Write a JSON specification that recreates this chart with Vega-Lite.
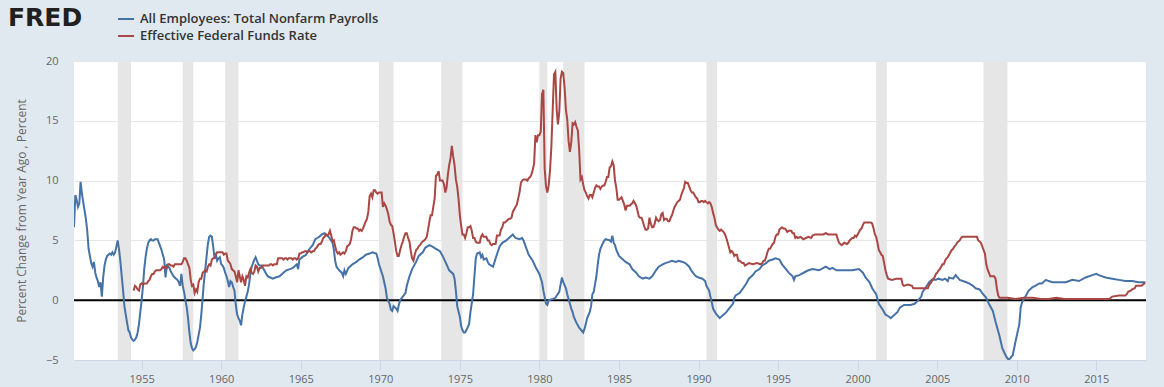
{
"$schema": "https://vega.github.io/schema/vega-lite/v6.json",
"width": 1072, "height": 299,
"autosize": {"type": "none"},
"padding": {"left": 74, "top": 61, "right": 18, "bottom": 27},
"background": "#e1e9f0",
"title": {"text": "FRED", "anchor": "start", "frame": "group", "font": "DejaVu Sans", "fontSize": 25, "fontWeight": "bold", "color": "#231f20", "dx": -66, "offset": 0, "baseline": "alphabetic", "dy": 41},
"config": {
  "view": {"fill": "#ffffff", "stroke": null},
  "font": "Open Sans",
  "axisX": {"title": null, "format": "%Y", "grid": false, "domainColor": "#ccd6eb", "tickColor": "#ccd6eb", "tickSize": 10, "labelFont": "Open Sans", "labelFontSize": 11, "labelColor": "#666666", "labelPadding": 3, "labelFlush": false, "labelOverlap": false},
  "axisY": {"grid": true, "gridColor": "#e6e6e6", "domain": false, "ticks": false, "labelFont": "Open Sans", "labelFontSize": 11, "labelColor": "#666666", "labelPadding": 16, "titleFont": "Open Sans", "titleFontSize": 12, "titleFontWeight": "normal", "titleColor": "#666666", "titleX": -53, "titleY": 149.5, "titleAngle": -90, "titleAlign": "center", "titleBaseline": "middle"},
  "legend": {"orient": "none", "legendX": 43, "legendY": -51, "direction": "vertical", "title": null, "symbolType": "stroke", "symbolSize": 256, "symbolStrokeWidth": 2, "labelFont": "Open Sans", "labelFontSize": 13, "labelFontWeight": 600, "labelColor": "#333333", "labelOffset": 5, "rowPadding": 1, "padding": 0, "labelLimit": 500}
},
"datasets": {
"recessions": [
{"start":"1953-07","end":"1954-05"},{"start":"1957-08","end":"1958-04"},{"start":"1960-04","end":"1961-02"},{"start":"1969-12","end":"1970-11"},{"start":"1973-11","end":"1975-03"},{"start":"1980-01","end":"1980-07"},{"start":"1981-07","end":"1982-11"},{"start":"1990-07","end":"1991-03"},{"start":"2001-03","end":"2001-11"},{"start":"2007-12","end":"2009-06"}
],
"payrolls": [
{"date":"1950-10","value":6.1},{"date":"1950-11","value":8.8},{"date":"1950-12","value":8.4},{"date":"1951-01","value":7.8},{"date":"1951-02","value":8.1},{"date":"1951-03","value":9.9},{"date":"1951-04","value":8.9},{"date":"1951-05","value":8.2},{"date":"1951-06","value":7.5},{"date":"1951-07","value":6.8},{"date":"1951-08","value":5.8},{"date":"1951-09","value":4.3},{"date":"1951-10","value":3.7},{"date":"1951-11","value":3.1},{"date":"1951-12","value":2.8},
{"date":"1952-01","value":3.2},{"date":"1952-02","value":2.3},{"date":"1952-03","value":1.9},{"date":"1952-04","value":1.6},{"date":"1952-05","value":1.1},{"date":"1952-06","value":1.5},{"date":"1952-07","value":0.3},{"date":"1952-08","value":1.9},{"date":"1952-09","value":2.9},{"date":"1952-10","value":3.4},{"date":"1952-11","value":3.7},{"date":"1952-12","value":3.8},
{"date":"1953-01","value":3.9},{"date":"1953-02","value":3.8},{"date":"1953-03","value":4.0},{"date":"1953-04","value":3.8},{"date":"1953-05","value":4.0},{"date":"1953-06","value":4.5},{"date":"1953-07","value":5.0},{"date":"1953-08","value":4.2},{"date":"1953-09","value":3.2},{"date":"1953-10","value":2.0},{"date":"1953-11","value":0.8},{"date":"1953-12","value":-0.5},
{"date":"1954-01","value":-1.2},{"date":"1954-02","value":-1.9},{"date":"1954-03","value":-2.5},{"date":"1954-04","value":-2.7},{"date":"1954-05","value":-3.1},{"date":"1954-06","value":-3.3},{"date":"1954-07","value":-3.4},{"date":"1954-08","value":-3.3},{"date":"1954-09","value":-3.1},{"date":"1954-10","value":-2.7},{"date":"1954-11","value":-2.0},{"date":"1954-12","value":-1.0},
{"date":"1955-01","value":0.0},{"date":"1955-02","value":1.2},{"date":"1955-03","value":2.6},{"date":"1955-04","value":3.6},{"date":"1955-05","value":4.3},{"date":"1955-06","value":4.8},{"date":"1955-07","value":5.0},{"date":"1955-08","value":5.1},{"date":"1955-09","value":5.0},{"date":"1955-10","value":5.0},{"date":"1955-11","value":5.1},{"date":"1955-12","value":5.1},
{"date":"1956-01","value":5.1},{"date":"1956-02","value":4.8},{"date":"1956-03","value":4.5},{"date":"1956-04","value":4.2},{"date":"1956-05","value":3.8},{"date":"1956-06","value":3.4},{"date":"1956-07","value":1.9},{"date":"1956-08","value":2.9},{"date":"1956-09","value":2.8},{"date":"1956-10","value":2.7},{"date":"1956-11","value":2.4},{"date":"1956-12","value":2.2},
{"date":"1957-01","value":2.0},{"date":"1957-02","value":1.9},{"date":"1957-03","value":1.8},{"date":"1957-04","value":1.7},{"date":"1957-05","value":1.5},{"date":"1957-06","value":1.2},{"date":"1957-07","value":2.2},{"date":"1957-08","value":1.2},{"date":"1957-09","value":0.7},{"date":"1957-10","value":0.0},{"date":"1957-11","value":-0.6},{"date":"1957-12","value":-1.5},
{"date":"1958-01","value":-2.7},{"date":"1958-02","value":-3.6},{"date":"1958-03","value":-4.0},{"date":"1958-04","value":-4.2},{"date":"1958-05","value":-4.1},{"date":"1958-06","value":-3.9},{"date":"1958-07","value":-3.5},{"date":"1958-08","value":-2.9},{"date":"1958-09","value":-2.3},{"date":"1958-10","value":-1.2},{"date":"1958-11","value":0.2},{"date":"1958-12","value":1.5},
{"date":"1959-01","value":2.6},{"date":"1959-02","value":3.7},{"date":"1959-03","value":4.7},{"date":"1959-04","value":5.3},{"date":"1959-05","value":5.4},{"date":"1959-06","value":5.3},{"date":"1959-07","value":4.5},{"date":"1959-08","value":3.5},{"date":"1959-09","value":3.8},{"date":"1959-10","value":3.3},{"date":"1959-11","value":3.5},{"date":"1959-12","value":3.6},
{"date":"1960-01","value":3.0},{"date":"1960-02","value":2.9},{"date":"1960-03","value":2.7},{"date":"1960-04","value":2.3},{"date":"1960-05","value":2.0},{"date":"1960-06","value":1.6},{"date":"1960-07","value":1.1},{"date":"1960-08","value":1.6},{"date":"1960-09","value":1.5},{"date":"1960-10","value":1.1},{"date":"1960-11","value":0.8},{"date":"1960-12","value":-0.4},
{"date":"1961-01","value":-1.2},{"date":"1961-02","value":-1.5},{"date":"1961-03","value":-1.7},{"date":"1961-04","value":-2.1},{"date":"1961-05","value":-1.2},{"date":"1961-06","value":-0.6},{"date":"1961-07","value":-0.1},{"date":"1961-08","value":0.3},{"date":"1961-09","value":0.7},{"date":"1961-10","value":1.3},{"date":"1961-11","value":2.2},{"date":"1961-12","value":2.8},
{"date":"1962-01","value":3.1},{"date":"1962-02","value":3.4},{"date":"1962-03","value":3.6},{"date":"1962-04","value":3.3},{"date":"1962-05","value":3.0},{"date":"1962-06","value":2.9},{"date":"1962-07","value":2.9},{"date":"1962-08","value":2.8},{"date":"1962-09","value":2.6},{"date":"1962-10","value":2.4},{"date":"1962-11","value":2.2},{"date":"1962-12","value":2.0},
{"date":"1963-02","value":1.9},{"date":"1963-04","value":1.8},{"date":"1963-06","value":1.9},{"date":"1963-09","value":2.0},{"date":"1963-12","value":2.3},{"date":"1964-02","value":2.5},{"date":"1964-05","value":2.6},{"date":"1964-07","value":2.7},{"date":"1964-09","value":2.9},{"date":"1964-10","value":3.0},{"date":"1964-11","value":2.6},{"date":"1964-12","value":3.4},
{"date":"1965-02","value":3.6},{"date":"1965-05","value":3.8},{"date":"1965-07","value":4.2},{"date":"1965-10","value":4.6},{"date":"1965-12","value":5.1},{"date":"1966-03","value":5.3},{"date":"1966-05","value":5.5},{"date":"1966-07","value":5.6},{"date":"1966-08","value":5.5},{"date":"1966-10","value":5.3},
{"date":"1967-01","value":4.8},{"date":"1967-02","value":4.2},{"date":"1967-03","value":3.3},{"date":"1967-04","value":2.8},{"date":"1967-06","value":2.5},{"date":"1967-08","value":2.3},{"date":"1967-09","value":2.0},{"date":"1967-10","value":2.5},{"date":"1967-11","value":2.2},
{"date":"1968-01","value":2.7},{"date":"1968-04","value":3.0},{"date":"1968-07","value":3.2},{"date":"1968-09","value":3.4},{"date":"1968-12","value":3.6},{"date":"1969-02","value":3.8},{"date":"1969-05","value":3.9},{"date":"1969-07","value":4.0},{"date":"1969-10","value":3.9},{"date":"1969-11","value":3.5},{"date":"1969-12","value":3.0},
{"date":"1970-03","value":2.0},{"date":"1970-05","value":1.0},{"date":"1970-06","value":0.2},{"date":"1970-08","value":-0.3},{"date":"1970-09","value":-0.8},{"date":"1970-10","value":-0.9},{"date":"1970-11","value":-0.5},{"date":"1971-01","value":-0.7},{"date":"1971-02","value":-0.9},{"date":"1971-03","value":-0.4},{"date":"1971-04","value":0.0},{"date":"1971-06","value":0.3},{"date":"1971-08","value":0.6},{"date":"1971-09","value":1.2},{"date":"1971-11","value":2.0},
{"date":"1972-01","value":2.6},{"date":"1972-04","value":3.2},{"date":"1972-06","value":3.7},{"date":"1972-09","value":4.0},{"date":"1972-11","value":4.4},{"date":"1973-02","value":4.6},{"date":"1973-04","value":4.5},{"date":"1973-07","value":4.3},{"date":"1973-10","value":4.1},{"date":"1973-12","value":3.7},
{"date":"1974-03","value":3.0},{"date":"1974-05","value":2.5},{"date":"1974-08","value":2.2},{"date":"1974-09","value":1.8},{"date":"1974-10","value":0.8},{"date":"1974-11","value":-0.5},{"date":"1975-01","value":-1.4},{"date":"1975-02","value":-2.2},{"date":"1975-03","value":-2.5},{"date":"1975-04","value":-2.7},{"date":"1975-05","value":-2.7},{"date":"1975-06","value":-2.5},{"date":"1975-08","value":-2.0},{"date":"1975-09","value":-1.0},{"date":"1975-11","value":0.5},{"date":"1975-12","value":2.0},
{"date":"1976-01","value":3.5},{"date":"1976-02","value":3.9},{"date":"1976-04","value":4.0},{"date":"1976-05","value":3.6},{"date":"1976-06","value":3.8},{"date":"1976-07","value":3.4},{"date":"1976-09","value":3.5},{"date":"1976-10","value":3.2},{"date":"1976-11","value":3.0},{"date":"1977-02","value":2.8},{"date":"1977-04","value":3.5},{"date":"1977-07","value":4.5},{"date":"1977-09","value":4.8},{"date":"1977-12","value":5.0},
{"date":"1978-02","value":5.2},{"date":"1978-05","value":5.5},{"date":"1978-07","value":5.2},{"date":"1978-10","value":5.1},{"date":"1978-12","value":5.2},{"date":"1979-01","value":5.0},{"date":"1979-03","value":4.4},{"date":"1979-05","value":3.8},{"date":"1979-08","value":3.3},{"date":"1979-10","value":2.8},
{"date":"1980-01","value":2.2},{"date":"1980-03","value":1.5},{"date":"1980-04","value":0.8},{"date":"1980-06","value":-0.3},{"date":"1980-07","value":-0.4},{"date":"1980-08","value":0.0},{"date":"1980-11","value":0.1},{"date":"1981-01","value":0.2},{"date":"1981-04","value":0.7},{"date":"1981-05","value":1.3},{"date":"1981-06","value":1.9},{"date":"1981-07","value":1.5},{"date":"1981-09","value":1.0},{"date":"1981-10","value":0.5},{"date":"1981-12","value":-0.3},
{"date":"1982-01","value":-0.7},{"date":"1982-02","value":-1.0},{"date":"1982-03","value":-1.4},{"date":"1982-05","value":-1.9},{"date":"1982-06","value":-2.1},{"date":"1982-07","value":-2.3},{"date":"1982-10","value":-2.7},{"date":"1982-11","value":-2.4},{"date":"1982-12","value":-2.0},
{"date":"1983-01","value":-1.5},{"date":"1983-03","value":-1.0},{"date":"1983-04","value":-0.5},{"date":"1983-05","value":0.5},{"date":"1983-06","value":0.7},{"date":"1983-08","value":2.0},{"date":"1983-09","value":3.0},{"date":"1983-10","value":3.8},{"date":"1983-11","value":4.3},
{"date":"1984-01","value":4.8},{"date":"1984-02","value":5.0},{"date":"1984-03","value":5.1},{"date":"1984-06","value":5.0},{"date":"1984-07","value":4.9},{"date":"1984-08","value":5.4},{"date":"1984-09","value":4.8},{"date":"1984-10","value":4.6},{"date":"1984-11","value":4.2},
{"date":"1985-01","value":3.7},{"date":"1985-04","value":3.4},{"date":"1985-06","value":3.2},{"date":"1985-09","value":3.0},{"date":"1985-11","value":2.6},{"date":"1986-02","value":2.3},{"date":"1986-04","value":2.0},{"date":"1986-07","value":1.8},{"date":"1986-09","value":1.9},{"date":"1986-12","value":1.8},
{"date":"1987-02","value":2.0},{"date":"1987-05","value":2.5},{"date":"1987-07","value":2.8},{"date":"1987-10","value":3.0},{"date":"1987-12","value":3.1},{"date":"1988-03","value":3.2},{"date":"1988-05","value":3.3},{"date":"1988-08","value":3.2},{"date":"1988-10","value":3.3},
{"date":"1989-01","value":3.2},{"date":"1989-03","value":3.1},{"date":"1989-06","value":2.8},{"date":"1989-08","value":2.4},{"date":"1989-11","value":2.0},{"date":"1990-01","value":1.9},{"date":"1990-04","value":1.8},{"date":"1990-06","value":1.6},{"date":"1990-07","value":1.2},{"date":"1990-09","value":0.8},{"date":"1990-10","value":0.3},{"date":"1990-11","value":-0.2},{"date":"1990-12","value":-0.7},
{"date":"1991-02","value":-1.1},{"date":"1991-05","value":-1.5},{"date":"1991-07","value":-1.3},{"date":"1991-10","value":-1.0},{"date":"1991-12","value":-0.7},{"date":"1992-03","value":-0.3},{"date":"1992-04","value":0.2},{"date":"1992-05","value":0.4},{"date":"1992-08","value":0.6},{"date":"1992-10","value":0.9},
{"date":"1993-01","value":1.4},{"date":"1993-03","value":1.8},{"date":"1993-06","value":2.1},{"date":"1993-08","value":2.4},{"date":"1993-11","value":2.6},{"date":"1994-01","value":2.9},{"date":"1994-04","value":3.1},{"date":"1994-06","value":3.3},{"date":"1994-09","value":3.4},{"date":"1994-11","value":3.5},
{"date":"1995-02","value":3.4},{"date":"1995-04","value":3.0},{"date":"1995-07","value":2.6},{"date":"1995-09","value":2.3},{"date":"1995-12","value":2.0},{"date":"1996-01","value":1.7},{"date":"1996-02","value":2.0},{"date":"1996-05","value":2.1},{"date":"1996-10","value":2.4},{"date":"1996-12","value":2.5},
{"date":"1997-03","value":2.6},{"date":"1997-08","value":2.5},{"date":"1998-01","value":2.8},{"date":"1998-04","value":2.6},{"date":"1998-06","value":2.7},{"date":"1998-09","value":2.5},{"date":"1998-11","value":2.5},{"date":"1999-04","value":2.5},{"date":"1999-09","value":2.5},
{"date":"2000-02","value":2.6},{"date":"2000-05","value":2.3},{"date":"2000-07","value":1.9},{"date":"2000-10","value":1.5},{"date":"2000-12","value":1.0},{"date":"2001-03","value":0.5},{"date":"2001-05","value":-0.3},{"date":"2001-08","value":-0.8},{"date":"2001-10","value":-1.2},
{"date":"2002-01","value":-1.4},{"date":"2002-02","value":-1.5},{"date":"2002-04","value":-1.3},{"date":"2002-07","value":-1.0},{"date":"2002-09","value":-0.6},{"date":"2002-12","value":-0.4},{"date":"2003-03","value":-0.4},{"date":"2003-05","value":-0.4},{"date":"2003-08","value":-0.3},{"date":"2003-10","value":-0.1},
{"date":"2004-01","value":0.3},{"date":"2004-02","value":0.7},{"date":"2004-04","value":1.0},{"date":"2004-07","value":1.5},{"date":"2004-09","value":1.7},{"date":"2004-12","value":1.7},{"date":"2005-02","value":1.8},{"date":"2005-05","value":1.7},{"date":"2005-07","value":1.8},{"date":"2005-09","value":1.6},{"date":"2005-10","value":1.9},
{"date":"2006-01","value":1.8},{"date":"2006-03","value":2.1},{"date":"2006-06","value":1.7},{"date":"2006-11","value":1.5},{"date":"2007-01","value":1.4},{"date":"2007-04","value":1.2},{"date":"2007-06","value":1.0},{"date":"2007-09","value":0.9},{"date":"2007-11","value":0.6},
{"date":"2008-02","value":0.2},{"date":"2008-04","value":-0.3},{"date":"2008-07","value":-0.9},{"date":"2008-09","value":-1.8},{"date":"2008-12","value":-3.0},{"date":"2009-02","value":-4.0},{"date":"2009-05","value":-4.7},{"date":"2009-07","value":-5.0},{"date":"2009-10","value":-4.6},{"date":"2009-12","value":-3.5},
{"date":"2010-03","value":-2.0},{"date":"2010-04","value":-0.6},{"date":"2010-05","value":-0.2},{"date":"2010-08","value":0.4},{"date":"2010-10","value":0.8},{"date":"2011-01","value":1.1},{"date":"2011-03","value":1.2},{"date":"2011-06","value":1.4},{"date":"2011-08","value":1.4},{"date":"2011-11","value":1.7},
{"date":"2012-01","value":1.6},{"date":"2012-04","value":1.5},{"date":"2012-09","value":1.5},{"date":"2013-02","value":1.5},{"date":"2013-07","value":1.7},{"date":"2013-12","value":1.6},{"date":"2014-05","value":1.9},{"date":"2014-10","value":2.1},{"date":"2015-01","value":2.2},{"date":"2015-03","value":2.1},{"date":"2015-08","value":1.9},
{"date":"2016-01","value":1.8},{"date":"2016-06","value":1.7},{"date":"2016-11","value":1.6},{"date":"2017-04","value":1.6},{"date":"2017-09","value":1.5},{"date":"2018-02","value":1.5}
],
"fedfunds": [
{"date":"1954-07","value":0.8},{"date":"1954-08","value":1.2},{"date":"1954-09","value":1.1},{"date":"1954-10","value":0.9},{"date":"1954-11","value":0.8},{"date":"1954-12","value":1.3},
{"date":"1955-01","value":1.4},{"date":"1955-02","value":1.3},{"date":"1955-03","value":1.4},{"date":"1955-04","value":1.4},{"date":"1955-05","value":1.4},{"date":"1955-06","value":1.6},{"date":"1955-07","value":1.7},{"date":"1955-08","value":2.0},{"date":"1955-09","value":2.2},{"date":"1955-10","value":2.2},{"date":"1955-11","value":2.4},{"date":"1955-12","value":2.5},
{"date":"1956-01","value":2.5},{"date":"1956-02","value":2.5},{"date":"1956-03","value":2.5},{"date":"1956-04","value":2.6},{"date":"1956-05","value":2.8},{"date":"1956-06","value":2.7},{"date":"1956-07","value":2.8},{"date":"1956-08","value":2.7},{"date":"1956-09","value":3.0},{"date":"1956-10","value":3.0},{"date":"1956-11","value":2.9},{"date":"1956-12","value":2.9},
{"date":"1957-01","value":2.8},{"date":"1957-02","value":3.0},{"date":"1957-03","value":3.0},{"date":"1957-04","value":3.0},{"date":"1957-05","value":3.0},{"date":"1957-06","value":3.0},{"date":"1957-07","value":3.0},{"date":"1957-08","value":3.2},{"date":"1957-09","value":3.5},{"date":"1957-10","value":3.5},{"date":"1957-11","value":3.3},{"date":"1957-12","value":3.0},
{"date":"1958-01","value":2.7},{"date":"1958-02","value":1.7},{"date":"1958-03","value":1.2},{"date":"1958-04","value":1.3},{"date":"1958-05","value":0.6},{"date":"1958-06","value":0.9},{"date":"1958-07","value":0.7},{"date":"1958-08","value":1.5},{"date":"1958-09","value":1.8},{"date":"1958-10","value":1.8},{"date":"1958-11","value":2.3},{"date":"1958-12","value":2.4},
{"date":"1959-01","value":2.5},{"date":"1959-02","value":2.4},{"date":"1959-03","value":2.8},{"date":"1959-04","value":3.0},{"date":"1959-05","value":2.9},{"date":"1959-06","value":3.4},{"date":"1959-07","value":3.5},{"date":"1959-08","value":3.5},{"date":"1959-09","value":3.8},{"date":"1959-10","value":4.0},{"date":"1959-11","value":4.0},{"date":"1959-12","value":4.0},
{"date":"1960-01","value":4.0},{"date":"1960-02","value":4.0},{"date":"1960-03","value":3.8},{"date":"1960-04","value":3.9},{"date":"1960-05","value":3.9},{"date":"1960-06","value":3.3},{"date":"1960-07","value":3.2},{"date":"1960-08","value":3.0},{"date":"1960-09","value":2.6},{"date":"1960-10","value":2.5},{"date":"1960-11","value":2.4},{"date":"1960-12","value":2.0},
{"date":"1961-01","value":1.5},{"date":"1961-02","value":2.5},{"date":"1961-03","value":2.0},{"date":"1961-04","value":1.5},{"date":"1961-05","value":2.0},{"date":"1961-06","value":1.7},{"date":"1961-07","value":1.2},{"date":"1961-08","value":2.0},{"date":"1961-09","value":1.9},{"date":"1961-10","value":2.3},{"date":"1961-11","value":2.6},{"date":"1961-12","value":2.3},
{"date":"1962-01","value":2.2},{"date":"1962-02","value":2.4},{"date":"1962-03","value":2.9},{"date":"1962-04","value":2.8},{"date":"1962-05","value":2.4},{"date":"1962-06","value":2.7},{"date":"1962-07","value":2.7},{"date":"1962-08","value":2.9},{"date":"1962-09","value":2.9},{"date":"1962-10","value":2.9},{"date":"1962-11","value":2.9},{"date":"1962-12","value":2.9},
{"date":"1963-01","value":2.9},{"date":"1963-02","value":3.0},{"date":"1963-03","value":3.0},{"date":"1963-04","value":2.9},{"date":"1963-05","value":3.0},{"date":"1963-06","value":3.0},{"date":"1963-07","value":3.0},{"date":"1963-08","value":3.5},{"date":"1963-09","value":3.5},{"date":"1963-10","value":3.5},{"date":"1963-11","value":3.5},{"date":"1963-12","value":3.4},
{"date":"1964-01","value":3.5},{"date":"1964-02","value":3.5},{"date":"1964-03","value":3.4},{"date":"1964-04","value":3.5},{"date":"1964-05","value":3.5},{"date":"1964-06","value":3.5},{"date":"1964-07","value":3.4},{"date":"1964-08","value":3.5},{"date":"1964-09","value":3.5},{"date":"1964-10","value":3.4},{"date":"1964-11","value":3.5},{"date":"1964-12","value":3.9},
{"date":"1965-01","value":3.9},{"date":"1965-02","value":4.0},{"date":"1965-03","value":4.0},{"date":"1965-04","value":4.1},{"date":"1965-05","value":4.1},{"date":"1965-06","value":4.0},{"date":"1965-07","value":4.1},{"date":"1965-08","value":4.1},{"date":"1965-09","value":4.0},{"date":"1965-10","value":4.1},{"date":"1965-11","value":4.1},{"date":"1965-12","value":4.3},
{"date":"1966-01","value":4.4},{"date":"1966-02","value":4.6},{"date":"1966-03","value":4.7},{"date":"1966-04","value":4.7},{"date":"1966-05","value":4.9},{"date":"1966-06","value":5.2},{"date":"1966-07","value":5.3},{"date":"1966-08","value":5.5},{"date":"1966-09","value":5.4},{"date":"1966-10","value":5.5},{"date":"1966-11","value":5.8},{"date":"1966-12","value":5.4},
{"date":"1967-01","value":4.9},{"date":"1967-02","value":5.0},{"date":"1967-03","value":4.5},{"date":"1967-04","value":4.1},{"date":"1967-05","value":3.9},{"date":"1967-06","value":4.0},{"date":"1967-07","value":3.8},{"date":"1967-08","value":3.9},{"date":"1967-09","value":4.0},{"date":"1967-10","value":3.9},{"date":"1967-11","value":4.1},{"date":"1967-12","value":4.5},
{"date":"1968-01","value":4.6},{"date":"1968-02","value":4.7},{"date":"1968-03","value":5.1},{"date":"1968-04","value":5.8},{"date":"1968-05","value":6.1},{"date":"1968-06","value":6.1},{"date":"1968-07","value":6.0},{"date":"1968-08","value":6.0},{"date":"1968-09","value":5.8},{"date":"1968-10","value":5.9},{"date":"1968-11","value":5.8},{"date":"1968-12","value":6.0},
{"date":"1969-01","value":6.3},{"date":"1969-02","value":6.6},{"date":"1969-03","value":6.8},{"date":"1969-04","value":7.4},{"date":"1969-05","value":8.7},{"date":"1969-06","value":8.9},{"date":"1969-07","value":8.6},{"date":"1969-08","value":9.2},{"date":"1969-09","value":9.2},{"date":"1969-10","value":9.0},{"date":"1969-11","value":8.9},{"date":"1969-12","value":9.0},
{"date":"1970-01","value":9.0},{"date":"1970-02","value":9.0},{"date":"1970-03","value":7.8},{"date":"1970-04","value":8.1},{"date":"1970-05","value":7.9},{"date":"1970-06","value":7.6},{"date":"1970-07","value":7.2},{"date":"1970-08","value":6.6},{"date":"1970-09","value":6.3},{"date":"1970-10","value":6.2},{"date":"1970-11","value":5.6},{"date":"1970-12","value":4.9},
{"date":"1971-01","value":4.1},{"date":"1971-02","value":3.7},{"date":"1971-03","value":3.7},{"date":"1971-04","value":4.2},{"date":"1971-05","value":4.6},{"date":"1971-06","value":4.9},{"date":"1971-07","value":5.3},{"date":"1971-08","value":5.6},{"date":"1971-09","value":5.6},{"date":"1971-10","value":5.2},{"date":"1971-11","value":4.9},{"date":"1971-12","value":4.1},
{"date":"1972-01","value":3.5},{"date":"1972-02","value":3.3},{"date":"1972-03","value":3.8},{"date":"1972-04","value":4.2},{"date":"1972-05","value":4.3},{"date":"1972-06","value":4.5},{"date":"1972-07","value":4.6},{"date":"1972-08","value":4.8},{"date":"1972-09","value":4.9},{"date":"1972-10","value":5.0},{"date":"1972-11","value":5.1},{"date":"1972-12","value":5.3},
{"date":"1973-01","value":5.9},{"date":"1973-02","value":6.6},{"date":"1973-03","value":7.1},{"date":"1973-04","value":7.1},{"date":"1973-05","value":7.8},{"date":"1973-06","value":8.5},{"date":"1973-07","value":10.4},{"date":"1973-08","value":10.5},{"date":"1973-09","value":10.8},{"date":"1973-10","value":10.0},{"date":"1973-11","value":10.0},{"date":"1973-12","value":10.0},
{"date":"1974-01","value":9.7},{"date":"1974-02","value":9.0},{"date":"1974-03","value":9.4},{"date":"1974-04","value":10.5},{"date":"1974-05","value":11.3},{"date":"1974-06","value":11.9},{"date":"1974-07","value":12.9},{"date":"1974-08","value":12.0},{"date":"1974-09","value":11.3},{"date":"1974-10","value":10.1},{"date":"1974-11","value":9.5},{"date":"1974-12","value":8.5},
{"date":"1975-01","value":7.1},{"date":"1975-02","value":6.2},{"date":"1975-03","value":5.5},{"date":"1975-04","value":5.5},{"date":"1975-05","value":5.2},{"date":"1975-06","value":5.6},{"date":"1975-07","value":6.1},{"date":"1975-08","value":6.1},{"date":"1975-09","value":6.2},{"date":"1975-10","value":5.8},{"date":"1975-11","value":5.2},{"date":"1975-12","value":5.2},
{"date":"1976-01","value":4.9},{"date":"1976-02","value":4.8},{"date":"1976-03","value":4.8},{"date":"1976-04","value":4.8},{"date":"1976-05","value":5.3},{"date":"1976-06","value":5.5},{"date":"1976-07","value":5.3},{"date":"1976-08","value":5.3},{"date":"1976-09","value":5.3},{"date":"1976-10","value":5.0},{"date":"1976-11","value":5.0},{"date":"1976-12","value":4.7},
{"date":"1977-01","value":4.6},{"date":"1977-02","value":4.7},{"date":"1977-03","value":4.7},{"date":"1977-04","value":4.7},{"date":"1977-05","value":5.4},{"date":"1977-06","value":5.4},{"date":"1977-07","value":5.4},{"date":"1977-08","value":5.9},{"date":"1977-09","value":6.1},{"date":"1977-10","value":6.5},{"date":"1977-11","value":6.5},{"date":"1977-12","value":6.6},
{"date":"1978-01","value":6.7},{"date":"1978-02","value":6.8},{"date":"1978-03","value":6.8},{"date":"1978-04","value":6.9},{"date":"1978-05","value":7.4},{"date":"1978-06","value":7.6},{"date":"1978-07","value":7.8},{"date":"1978-08","value":8.0},{"date":"1978-09","value":8.5},{"date":"1978-10","value":9.0},{"date":"1978-11","value":9.8},{"date":"1978-12","value":10.0},
{"date":"1979-01","value":10.1},{"date":"1979-02","value":10.1},{"date":"1979-03","value":10.1},{"date":"1979-04","value":10.0},{"date":"1979-05","value":10.2},{"date":"1979-06","value":10.3},{"date":"1979-07","value":10.5},{"date":"1979-08","value":10.9},{"date":"1979-09","value":11.4},{"date":"1979-10","value":13.8},{"date":"1979-11","value":13.2},{"date":"1979-12","value":13.8},
{"date":"1980-01","value":13.8},{"date":"1980-02","value":14.1},{"date":"1980-03","value":17.2},{"date":"1980-04","value":17.6},{"date":"1980-05","value":11.0},{"date":"1980-06","value":9.5},{"date":"1980-07","value":9.0},{"date":"1980-08","value":9.6},{"date":"1980-09","value":10.9},{"date":"1980-10","value":12.8},{"date":"1980-11","value":15.9},{"date":"1980-12","value":18.9},
{"date":"1981-01","value":19.1},{"date":"1981-02","value":15.9},{"date":"1981-03","value":14.7},{"date":"1981-04","value":15.7},{"date":"1981-05","value":18.5},{"date":"1981-06","value":19.1},{"date":"1981-07","value":19.0},{"date":"1981-08","value":17.8},{"date":"1981-09","value":15.9},{"date":"1981-10","value":15.1},{"date":"1981-11","value":13.3},{"date":"1981-12","value":12.4},
{"date":"1982-01","value":13.2},{"date":"1982-02","value":14.8},{"date":"1982-03","value":14.7},{"date":"1982-04","value":14.9},{"date":"1982-05","value":14.5},{"date":"1982-06","value":14.2},{"date":"1982-07","value":12.6},{"date":"1982-08","value":10.1},{"date":"1982-09","value":10.3},{"date":"1982-10","value":9.7},{"date":"1982-11","value":9.2},{"date":"1982-12","value":9.0},
{"date":"1983-01","value":8.7},{"date":"1983-02","value":8.5},{"date":"1983-03","value":8.8},{"date":"1983-04","value":8.8},{"date":"1983-05","value":8.6},{"date":"1983-06","value":9.0},{"date":"1983-07","value":9.4},{"date":"1983-08","value":9.6},{"date":"1983-09","value":9.5},{"date":"1983-10","value":9.5},{"date":"1983-11","value":9.3},{"date":"1983-12","value":9.5},
{"date":"1984-01","value":9.6},{"date":"1984-02","value":9.6},{"date":"1984-03","value":9.9},{"date":"1984-04","value":10.3},{"date":"1984-05","value":10.3},{"date":"1984-06","value":11.1},{"date":"1984-07","value":11.2},{"date":"1984-08","value":11.6},{"date":"1984-09","value":11.3},{"date":"1984-10","value":10.0},{"date":"1984-11","value":9.4},{"date":"1984-12","value":8.4},
{"date":"1985-01","value":8.4},{"date":"1985-02","value":8.5},{"date":"1985-03","value":8.6},{"date":"1985-04","value":8.3},{"date":"1985-05","value":8.0},{"date":"1985-06","value":7.5},{"date":"1985-07","value":7.9},{"date":"1985-08","value":7.9},{"date":"1985-09","value":7.9},{"date":"1985-10","value":8.0},{"date":"1985-11","value":8.1},{"date":"1985-12","value":8.3},
{"date":"1986-01","value":8.1},{"date":"1986-02","value":7.9},{"date":"1986-03","value":7.5},{"date":"1986-04","value":7.0},{"date":"1986-05","value":6.9},{"date":"1986-06","value":6.9},{"date":"1986-07","value":6.6},{"date":"1986-08","value":6.2},{"date":"1986-09","value":5.9},{"date":"1986-10","value":5.9},{"date":"1986-11","value":6.0},{"date":"1986-12","value":6.9},
{"date":"1987-01","value":6.4},{"date":"1987-02","value":6.1},{"date":"1987-03","value":6.1},{"date":"1987-04","value":6.4},{"date":"1987-05","value":6.9},{"date":"1987-06","value":6.7},{"date":"1987-07","value":6.6},{"date":"1987-08","value":6.7},{"date":"1987-09","value":7.2},{"date":"1987-10","value":7.3},{"date":"1987-11","value":6.7},{"date":"1987-12","value":6.8},
{"date":"1988-01","value":6.8},{"date":"1988-02","value":6.6},{"date":"1988-03","value":6.6},{"date":"1988-04","value":6.9},{"date":"1988-05","value":7.1},{"date":"1988-06","value":7.5},{"date":"1988-07","value":7.8},{"date":"1988-08","value":8.0},{"date":"1988-09","value":8.2},{"date":"1988-10","value":8.3},{"date":"1988-11","value":8.4},{"date":"1988-12","value":8.8},
{"date":"1989-01","value":9.1},{"date":"1989-02","value":9.4},{"date":"1989-03","value":9.9},{"date":"1989-04","value":9.8},{"date":"1989-05","value":9.8},{"date":"1989-06","value":9.5},{"date":"1989-07","value":9.2},{"date":"1989-08","value":9.0},{"date":"1989-09","value":9.0},{"date":"1989-10","value":8.8},{"date":"1989-11","value":8.6},{"date":"1989-12","value":8.5},
{"date":"1990-01","value":8.2},{"date":"1990-02","value":8.2},{"date":"1990-03","value":8.3},{"date":"1990-04","value":8.3},{"date":"1990-05","value":8.2},{"date":"1990-06","value":8.3},{"date":"1990-07","value":8.2},{"date":"1990-08","value":8.1},{"date":"1990-09","value":8.2},{"date":"1990-10","value":8.1},{"date":"1990-11","value":7.8},{"date":"1990-12","value":7.3},
{"date":"1991-01","value":6.9},{"date":"1991-02","value":6.3},{"date":"1991-03","value":6.1},{"date":"1991-04","value":5.9},{"date":"1991-05","value":5.8},{"date":"1991-06","value":5.9},{"date":"1991-07","value":5.8},{"date":"1991-08","value":5.7},{"date":"1991-09","value":5.5},{"date":"1991-10","value":5.2},{"date":"1991-11","value":4.8},{"date":"1991-12","value":4.4},
{"date":"1992-01","value":4.0},{"date":"1992-02","value":4.1},{"date":"1992-03","value":4.0},{"date":"1992-04","value":3.7},{"date":"1992-05","value":3.8},{"date":"1992-06","value":3.8},{"date":"1992-07","value":3.3},{"date":"1992-08","value":3.3},{"date":"1992-09","value":3.2},{"date":"1992-10","value":3.1},{"date":"1992-11","value":3.1},{"date":"1992-12","value":2.9},
{"date":"1993-03","value":3.1},{"date":"1993-06","value":3.0},{"date":"1993-09","value":3.1},{"date":"1993-12","value":3.0},
{"date":"1994-01","value":3.1},{"date":"1994-02","value":3.3},{"date":"1994-03","value":3.3},{"date":"1994-04","value":3.6},{"date":"1994-05","value":4.0},{"date":"1994-06","value":4.3},{"date":"1994-07","value":4.3},{"date":"1994-08","value":4.5},{"date":"1994-09","value":4.7},{"date":"1994-10","value":4.8},{"date":"1994-11","value":5.3},{"date":"1994-12","value":5.5},
{"date":"1995-01","value":5.5},{"date":"1995-02","value":5.9},{"date":"1995-03","value":6.0},{"date":"1995-04","value":6.1},{"date":"1995-05","value":6.0},{"date":"1995-06","value":6.0},{"date":"1995-07","value":5.9},{"date":"1995-08","value":5.7},{"date":"1995-09","value":5.8},{"date":"1995-10","value":5.8},{"date":"1995-11","value":5.8},{"date":"1995-12","value":5.6},
{"date":"1996-01","value":5.6},{"date":"1996-02","value":5.2},{"date":"1996-03","value":5.3},{"date":"1996-04","value":5.2},{"date":"1996-06","value":5.3},{"date":"1996-08","value":5.1},{"date":"1996-10","value":5.2},{"date":"1996-12","value":5.3},
{"date":"1997-02","value":5.2},{"date":"1997-03","value":5.4},{"date":"1997-05","value":5.5},{"date":"1997-07","value":5.5},{"date":"1997-09","value":5.5},{"date":"1997-11","value":5.5},
{"date":"1998-01","value":5.6},{"date":"1998-03","value":5.5},{"date":"1998-05","value":5.5},{"date":"1998-07","value":5.5},{"date":"1998-09","value":5.5},{"date":"1998-10","value":5.1},{"date":"1998-11","value":4.8},{"date":"1998-12","value":4.7},
{"date":"1999-01","value":4.6},{"date":"1999-03","value":4.8},{"date":"1999-05","value":4.7},{"date":"1999-06","value":4.8},{"date":"1999-07","value":5.0},{"date":"1999-08","value":5.1},{"date":"1999-09","value":5.2},{"date":"1999-10","value":5.2},{"date":"1999-11","value":5.4},{"date":"1999-12","value":5.3},
{"date":"2000-01","value":5.5},{"date":"2000-02","value":5.7},{"date":"2000-03","value":5.9},{"date":"2000-04","value":6.0},{"date":"2000-05","value":6.3},{"date":"2000-06","value":6.5},{"date":"2000-08","value":6.5},{"date":"2000-10","value":6.5},{"date":"2000-11","value":6.5},{"date":"2000-12","value":6.4},
{"date":"2001-01","value":6.0},{"date":"2001-02","value":5.5},{"date":"2001-03","value":5.3},{"date":"2001-04","value":4.8},{"date":"2001-05","value":4.2},{"date":"2001-06","value":4.0},{"date":"2001-07","value":3.8},{"date":"2001-08","value":3.7},{"date":"2001-09","value":3.1},{"date":"2001-10","value":2.5},{"date":"2001-11","value":2.1},{"date":"2001-12","value":1.8},
{"date":"2002-03","value":1.7},{"date":"2002-06","value":1.8},{"date":"2002-10","value":1.8},{"date":"2002-11","value":1.3},{"date":"2002-12","value":1.2},{"date":"2003-03","value":1.3},{"date":"2003-06","value":1.2},{"date":"2003-07","value":1.0},{"date":"2003-12","value":1.0},{"date":"2004-06","value":1.0},
{"date":"2004-07","value":1.3},{"date":"2004-08","value":1.4},{"date":"2004-09","value":1.6},{"date":"2004-10","value":1.8},{"date":"2004-11","value":1.9},{"date":"2004-12","value":2.2},
{"date":"2005-01","value":2.3},{"date":"2005-02","value":2.5},{"date":"2005-03","value":2.6},{"date":"2005-04","value":2.8},{"date":"2005-05","value":3.0},{"date":"2005-06","value":3.0},{"date":"2005-07","value":3.3},{"date":"2005-08","value":3.5},{"date":"2005-09","value":3.6},{"date":"2005-10","value":3.8},{"date":"2005-11","value":4.0},{"date":"2005-12","value":4.2},
{"date":"2006-01","value":4.3},{"date":"2006-02","value":4.5},{"date":"2006-03","value":4.6},{"date":"2006-04","value":4.8},{"date":"2006-05","value":4.9},{"date":"2006-06","value":5.0},{"date":"2006-07","value":5.2},{"date":"2006-08","value":5.3},{"date":"2007-01","value":5.3},{"date":"2007-07","value":5.3},
{"date":"2007-08","value":5.0},{"date":"2007-09","value":4.9},{"date":"2007-10","value":4.8},{"date":"2007-11","value":4.5},{"date":"2007-12","value":4.2},
{"date":"2008-01","value":3.9},{"date":"2008-02","value":3.0},{"date":"2008-03","value":2.6},{"date":"2008-04","value":2.3},{"date":"2008-05","value":2.0},{"date":"2008-06","value":2.0},{"date":"2008-07","value":2.0},{"date":"2008-08","value":2.0},{"date":"2008-09","value":1.8},{"date":"2008-10","value":1.0},{"date":"2008-11","value":0.4},{"date":"2008-12","value":0.2},
{"date":"2009-06","value":0.2},{"date":"2009-12","value":0.1},{"date":"2010-06","value":0.2},{"date":"2011-01","value":0.2},{"date":"2011-07","value":0.1},{"date":"2012-01","value":0.1},{"date":"2012-07","value":0.2},{"date":"2013-01","value":0.1},{"date":"2013-07","value":0.1},{"date":"2014-01","value":0.1},{"date":"2014-07","value":0.1},{"date":"2015-01","value":0.1},{"date":"2015-07","value":0.1},{"date":"2015-11","value":0.1},
{"date":"2015-12","value":0.2},{"date":"2016-01","value":0.3},{"date":"2016-06","value":0.4},{"date":"2016-11","value":0.4},{"date":"2016-12","value":0.5},{"date":"2017-01","value":0.7},{"date":"2017-03","value":0.8},{"date":"2017-04","value":0.9},{"date":"2017-06","value":1.0},{"date":"2017-07","value":1.2},{"date":"2017-11","value":1.2},{"date":"2017-12","value":1.3},{"date":"2018-01","value":1.4},{"date":"2018-02","value":1.4}
]
},
"layer": [
{
  "data": {"name": "recessions"},
  "mark": {"type": "rect", "color": "#e6e6e6"},
  "encoding": {
    "x": {"field": "start", "type": "temporal", "scale": {"type": "utc", "domain": [{"year": 1950, "month": 10, "date": 1, "utc": true}, {"year": 2018, "month": 2, "date": 15, "utc": true}]},
      "axis": {"title": null, "values": [{"year": 1955, "month": 1, "date": 1, "utc": true}, {"year": 1960, "month": 1, "date": 1, "utc": true}, {"year": 1965, "month": 1, "date": 1, "utc": true}, {"year": 1970, "month": 1, "date": 1, "utc": true}, {"year": 1975, "month": 1, "date": 1, "utc": true}, {"year": 1980, "month": 1, "date": 1, "utc": true}, {"year": 1985, "month": 1, "date": 1, "utc": true}, {"year": 1990, "month": 1, "date": 1, "utc": true}, {"year": 1995, "month": 1, "date": 1, "utc": true}, {"year": 2000, "month": 1, "date": 1, "utc": true}, {"year": 2005, "month": 1, "date": 1, "utc": true}, {"year": 2010, "month": 1, "date": 1, "utc": true}, {"year": 2015, "month": 1, "date": 1, "utc": true}]}},
    "x2": {"field": "end"}
  }
},
{
  "data": {"values": [{"value": 0}]},
  "mark": {"type": "rule", "color": "#000000", "strokeWidth": 2},
  "encoding": {
    "y": {"field": "value", "type": "quantitative", "scale": {"domain": [-5, 20], "nice": false, "zero": false}, "axis": {"title": "Percent Change from Year Ago , Percent", "values": [-5, 0, 5, 10, 15, 20]}}
  }
},
{
  "data": {"name": "payrolls"},
  "mark": {"type": "line", "strokeWidth": 2, "clip": true},
  "encoding": {
    "x": {"field": "date", "type": "temporal", "axis": {"title": null, "values": [{"year": 1955, "month": 1, "date": 1, "utc": true}, {"year": 1960, "month": 1, "date": 1, "utc": true}, {"year": 1965, "month": 1, "date": 1, "utc": true}, {"year": 1970, "month": 1, "date": 1, "utc": true}, {"year": 1975, "month": 1, "date": 1, "utc": true}, {"year": 1980, "month": 1, "date": 1, "utc": true}, {"year": 1985, "month": 1, "date": 1, "utc": true}, {"year": 1990, "month": 1, "date": 1, "utc": true}, {"year": 1995, "month": 1, "date": 1, "utc": true}, {"year": 2000, "month": 1, "date": 1, "utc": true}, {"year": 2005, "month": 1, "date": 1, "utc": true}, {"year": 2010, "month": 1, "date": 1, "utc": true}, {"year": 2015, "month": 1, "date": 1, "utc": true}]}},
    "y": {"field": "value", "type": "quantitative", "axis": {"title": "Percent Change from Year Ago , Percent", "values": [-5, 0, 5, 10, 15, 20]}},
    "color": {"datum": "All Employees: Total Nonfarm Payrolls", "type": "nominal", "scale": {"domain": ["All Employees: Total Nonfarm Payrolls", "Effective Federal Funds Rate"], "range": ["#4572a7", "#aa4643"]}}
  }
},
{
  "data": {"name": "fedfunds"},
  "mark": {"type": "line", "strokeWidth": 2, "clip": true},
  "encoding": {
    "x": {"field": "date", "type": "temporal", "axis": {"title": null, "values": [{"year": 1955, "month": 1, "date": 1, "utc": true}, {"year": 1960, "month": 1, "date": 1, "utc": true}, {"year": 1965, "month": 1, "date": 1, "utc": true}, {"year": 1970, "month": 1, "date": 1, "utc": true}, {"year": 1975, "month": 1, "date": 1, "utc": true}, {"year": 1980, "month": 1, "date": 1, "utc": true}, {"year": 1985, "month": 1, "date": 1, "utc": true}, {"year": 1990, "month": 1, "date": 1, "utc": true}, {"year": 1995, "month": 1, "date": 1, "utc": true}, {"year": 2000, "month": 1, "date": 1, "utc": true}, {"year": 2005, "month": 1, "date": 1, "utc": true}, {"year": 2010, "month": 1, "date": 1, "utc": true}, {"year": 2015, "month": 1, "date": 1, "utc": true}]}},
    "y": {"field": "value", "type": "quantitative", "axis": {"title": "Percent Change from Year Ago , Percent", "values": [-5, 0, 5, 10, 15, 20]}},
    "color": {"datum": "Effective Federal Funds Rate", "type": "nominal", "scale": {"domain": ["All Employees: Total Nonfarm Payrolls", "Effective Federal Funds Rate"], "range": ["#4572a7", "#aa4643"]}}
  }
}
]
}
